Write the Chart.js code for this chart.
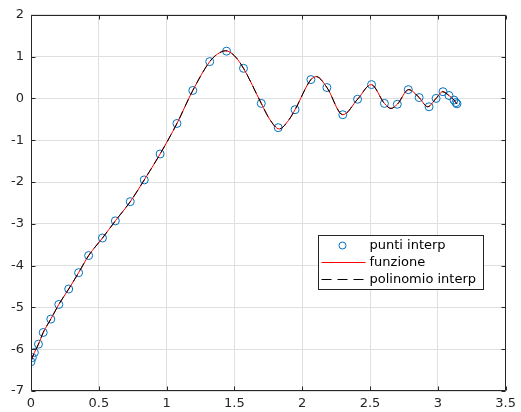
<!DOCTYPE html>
<html>
<head>
<meta charset="utf-8">
<script src="https://cdn.jsdelivr.net/npm/chart.js@4/dist/chart.umd.min.js"></script>
<style>
  body { margin: 0; background: #fff; }
  #wrap { width: 521px; height: 412px; }
</style>
</head>
<body>
<div id="wrap"><canvas id="grafico" width="521" height="412"></canvas></div>
<script>
// nodi di interpolazione
const nodiX = [0.000, 0.010, 0.025, 0.055, 0.090, 0.146, 0.205, 0.278, 0.351, 0.425,
               0.527, 0.622, 0.732, 0.835, 0.952, 1.076, 1.193, 1.318, 1.442, 1.567,
               1.698, 1.823, 1.947, 2.064, 2.182, 2.299, 2.408, 2.511, 2.606, 2.701,
               2.782, 2.862, 2.935, 2.987, 3.038, 3.082, 3.119, 3.133, 3.141];
const nodiY = [-6.30, -6.20, -6.08, -5.88, -5.60, -5.28, -4.93, -4.56, -4.17, -3.76,
               -3.34, -2.93, -2.47, -1.95, -1.33, -0.60, 0.19, 0.88, 1.13, 0.72,
               -0.12, -0.70, -0.27, 0.45, 0.26, -0.39, -0.02, 0.33, -0.12, -0.14,
               0.21, 0.02, -0.20, 0.00, 0.16, 0.07, -0.04, -0.10, -0.13];

// curva della funzione (compresi i massimi e minimi)
const curvaX = [0.000, 0.010, 0.025, 0.055, 0.090, 0.146, 0.205, 0.278, 0.351, 0.425,
                0.527, 0.622, 0.732, 0.835, 0.952, 1.076, 1.193, 1.318, 1.375, 1.435,
                1.500, 1.567, 1.698, 1.760, 1.830, 1.900, 1.947, 2.064, 2.105, 2.182,
                2.300, 2.408, 2.508, 2.606, 2.655, 2.701, 2.785, 2.862, 2.925, 2.987,
                3.035, 3.082, 3.119, 3.133, 3.141];
const curvaY = [-6.30, -6.20, -6.08, -5.88, -5.60, -5.28, -4.93, -4.56, -4.17, -3.76,
                -3.34, -2.93, -2.47, -1.95, -1.33, -0.60, 0.19, 0.88, 1.06, 1.14,
                1.02, 0.72, -0.12, -0.50, -0.73, -0.52, -0.27, 0.45, 0.52, 0.26,
                -0.39, -0.02, 0.33, -0.12, -0.24, -0.14, 0.21, 0.02, -0.20, 0.00,
                0.16, 0.07, -0.04, -0.10, -0.13];

// tick degli assi
const tickX = [0, 0.5, 1, 1.5, 2, 2.5, 3, 3.5];
const etichetteX = ['0', '0.5', '1', '1.5', '2', '2.5', '3', '3.5'];
const tickY = [-7, -6, -5, -4, -3, -2, -1, 0, 1, 2];
const etichetteY = ['-7', '-6', '-5', '-4', '-3', '-2', '-1', '0', '1', '2'];

const nomiSerie = ['punti interp', 'funzione', 'polinomio interp'];

const coloreAssi = '#262626';
const coloreGriglia = '#dfdfdf';
const blu = '#0072BD';
const font = { family: 'DejaVu Sans', size: 13 };

const punti = nodiX.map((x, i) => ({ x: x, y: nodiY[i] }));
const curva = curvaX.map((x, i) => ({ x: x, y: curvaY[i] }));

// cornice con tick interni su tutti i lati + legenda dentro il grafico
const cornice = {
    id: 'cornice',
    afterDatasetsDraw(chart) {
        const ctx = chart.ctx;
        const a = chart.chartArea;
        const sx = chart.scales.x, sy = chart.scales.y;
        const L = Math.round(a.left) + 0.5, R = Math.round(a.right) - 0.5;
        const T = Math.round(a.top) + 0.5, B = Math.round(a.bottom) - 0.5;
        ctx.save();
        ctx.strokeStyle = coloreAssi;
        ctx.lineWidth = 1;
        ctx.beginPath();
        ctx.rect(L, T, R - L, B - T);
        tickX.forEach(v => {
            const px = Math.round(sx.getPixelForValue(v)) + 0.5;
            ctx.moveTo(px, B); ctx.lineTo(px, B - 4);
            ctx.moveTo(px, T); ctx.lineTo(px, T + 4);
        });
        tickY.forEach(v => {
            const py = Math.round(sy.getPixelForValue(v)) + 0.5;
            ctx.moveTo(L, py); ctx.lineTo(L + 4, py);
            ctx.moveTo(R, py); ctx.lineTo(R - 4, py);
        });
        ctx.stroke();
        ctx.restore();
    },
    afterDraw(chart) {
        const ctx = chart.ctx;
        const a = chart.chartArea;
        const x0 = Math.round(a.left) + 287.5, y0 = Math.round(a.top) + 220.5;
        const w = 165, h = 54;
        ctx.save();
        ctx.fillStyle = '#fff';
        ctx.fillRect(x0, y0, w, h);
        ctx.strokeStyle = coloreAssi;
        ctx.lineWidth = 1;
        ctx.strokeRect(x0, y0, w, h);

        const righe = [y0 + 10, y0 + 27, y0 + 44];
        // marker
        ctx.strokeStyle = blu;
        ctx.beginPath();
        ctx.arc(x0 + 24, righe[0], 3.5, 0, Math.PI * 2);
        ctx.stroke();
        // linea rossa
        ctx.strokeStyle = '#ff0000';
        ctx.beginPath();
        ctx.moveTo(x0 + 3, righe[1]); ctx.lineTo(x0 + 47, righe[1]);
        ctx.stroke();
        // linea tratteggiata
        ctx.strokeStyle = '#000';
        ctx.setLineDash([10, 6]);
        ctx.beginPath();
        ctx.moveTo(x0 + 3, righe[2]); ctx.lineTo(x0 + 48, righe[2]);
        ctx.stroke();
        ctx.setLineDash([]);

        ctx.fillStyle = '#000';
        ctx.font = '13px "DejaVu Sans"';
        ctx.textBaseline = 'middle';
        nomiSerie.forEach((t, i) => ctx.fillText(t, x0 + 51, righe[i]));
        ctx.restore();
    }
};

new Chart(document.getElementById('grafico'), {
    type: 'scatter',
    data: {
        datasets: [
            {
                label: nomiSerie[0],
                data: punti,
                showLine: false,
                pointStyle: 'circle',
                pointRadius: 4,
                pointBorderColor: blu,
                pointBackgroundColor: 'rgba(0,0,0,0)',
                pointBorderWidth: 1,
                order: 3
            },
            {
                label: nomiSerie[1],
                data: curva,
                showLine: true,
                borderColor: '#ff0000',
                borderWidth: 1,
                pointRadius: 0,
                cubicInterpolationMode: 'monotone',
                order: 2
            },
            {
                label: nomiSerie[2],
                data: curva,
                showLine: true,
                borderColor: '#000',
                borderWidth: 1,
                borderDash: [8, 5],
                pointRadius: 0,
                cubicInterpolationMode: 'monotone',
                order: 1
            }
        ]
    },
    options: {
        responsive: false,
        animation: false,
        devicePixelRatio: 1,
        layout: { padding: { top: 14, right: 12, left: 0, bottom: 0 } },
        plugins: {
            legend: { display: false },
            tooltip: { enabled: false }
        },
        scales: {
            x: {
                type: 'linear',
                min: 0, max: 3.5,
                afterBuildTicks: s => { s.ticks = tickX.map(v => ({ value: v })); },
                afterFit: s => { s.height = 21; },
                ticks: {
                    color: coloreAssi, font: font, padding: 5,
                    maxRotation: 0, autoSkip: false,
                    callback: (v) => etichetteX[tickX.indexOf(v)]
                },
                grid: { color: coloreGriglia, drawTicks: false },
                border: { display: false }
            },
            y: {
                type: 'linear',
                min: -7, max: 2,
                afterBuildTicks: s => { s.ticks = tickY.map(v => ({ value: v })); },
                afterFit: s => { s.width = 31; },
                ticks: {
                    color: coloreAssi, font: font, padding: 7,
                    autoSkip: false,
                    callback: (v) => etichetteY[tickY.indexOf(v)]
                },
                grid: { color: coloreGriglia, drawTicks: false },
                border: { display: false }
            }
        }
    },
    plugins: [cornice]
});
</script>
</body>
</html>
